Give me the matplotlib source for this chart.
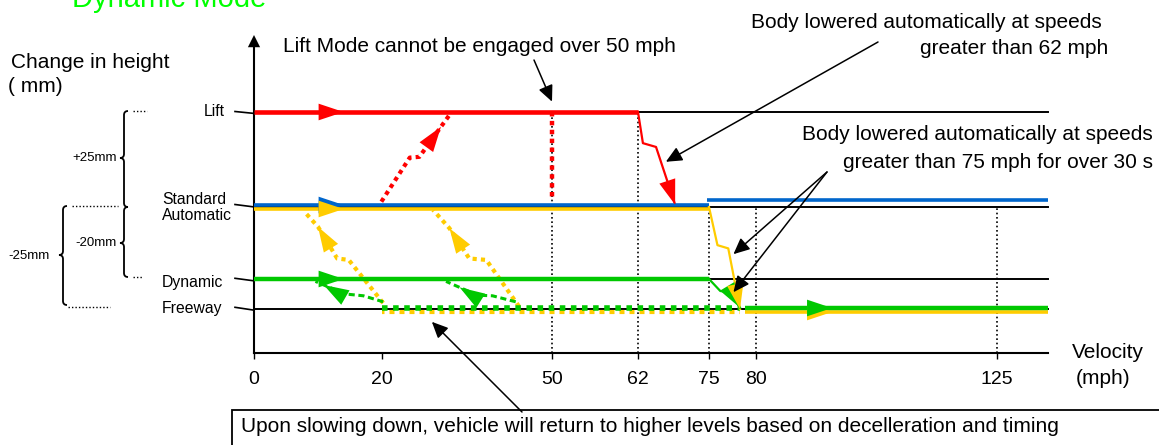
import numpy as np
import matplotlib
matplotlib.use("Agg")
import matplotlib.pyplot as plt
from matplotlib.path import Path
from matplotlib.patches import PathPatch, Rectangle
from matplotlib.transforms import offset_copy

plt.rcParams['font.family'] = ['Liberation Sans', 'DejaVu Sans']

W, H = 1159, 445

# velocity axis (mph) and ride height levels (mm)
speed_ticks = [0, 20, 50, 62, 75, 80, 125]
speed_labels = ['0', '20', '50', '62', '75', '80', '125']
level_mm = [25, 0, -20, -25]          # Lift, Standard, Dynamic, Freeway
v_end = 134.6
axis_mm = -37
axis_top = 45
guide_speeds = [50, 62, 75, 80, 125]
guide_from = [25, 25, 0, 0, 0]

# automatic lowering (mph, mm)
red_drop_v = [62, 62.9, 65.3, 68.8]
red_drop_h = [25, 16.8, 15.8, 0.6]
yel_drop_v = [75, 75.9, 77.05, 78.3]
yel_drop_h = [0, -10.6, -11.5, -25]
grn_drop_v = [75, 76.2, 77.3, 78.3]
grn_drop_h = [-20, -22.0, -22.2, -24.8]

# raising / returning paths (mph, mm)
red_up_v = [19.9, 24.9, 26.6, 30.4, 31.9]
red_up_h = [1.4, 13.0, 13.2, 21.1, 24.2]
yel_ret1_v = [20.2, 14.8, 13.0, 10.0, 8.1]
yel_ret1_h = [-24.0, -14.7, -14.3, -5.5, -1.75]
yel_ret2_v = [44.2, 38.4, 35.4, 31.9, 29.0]
yel_ret2_h = [-24.6, -14.7, -14.3, -5.9, -0.8]
grn_ret1_v = [20.2, 17.1, 14.3, 10.9, 9.6]
grn_ret1_h = [-23.8, -22.8, -22.5, -21.0, -20.4]
grn_ret2_v = [43.6, 39.5, 36.9, 33.7, 31.3]
grn_ret2_h = [-23.8, -22.8, -22.7, -21.4, -20.4]

RED, BLUE, YEL, GRN = '#ff0000', '#0066cc', '#ffcc00', '#00c800'

# piecewise scales (schematic, not linear)
kx_v = [-100, 0, 20, 50, 62, 75, 80, 125, 300]
kx_p = [254 - 645, 254, 382, 552, 638, 709, 756, 997, 997 + 938]
ky_m = [-200, -37, -25, -20, 0, 25, 45, 200]
ky_p = [353 + 600, 353, 309, 279, 207, 112, 35, 35 - 600]


def fx(v):
    return np.interp(v, kx_v, kx_p)


def fx_inv(p):
    return np.interp(p, kx_p, kx_v)


def fy(m):
    return -np.interp(m, ky_m, ky_p)


def fy_inv(q):
    return np.interp(-np.asarray(q), ky_p[::-1], ky_m[::-1])


fig = plt.figure(figsize=(W / 100, H / 100), dpi=100)
lay = fig.add_axes([0, 0, 1, 1])
lay.set_xlim(0, W)
lay.set_ylim(H, 0)
lay.axis('off')

ax = fig.add_axes([0, 0, 1, 1])
ax.patch.set_visible(False)
ax.set_xscale('function', functions=(fx, fx_inv))
ax.set_yscale('function', functions=(fy, fy_inv))
ax.set_xlim(fx_inv(0), fx_inv(W))
ax.set_ylim(fy_inv(-H), fy_inv(0))


def shift(dy):
    return offset_copy(ax.transData, fig=fig, x=0, y=dy, units='dots')


def head(p0, p1, color, dy=0, scale=10):
    tr = shift(dy)
    ax.annotate('', xy=p1, xytext=p0, xycoords=tr, textcoords=tr,
                arrowprops=dict(arrowstyle='-|>,head_length=1.8,head_width=0.6',
                                mutation_scale=scale, color=color, lw=0,
                                shrinkA=0, shrinkB=0), zorder=6)


def pointer(tip, tail_px):
    ax.annotate('', xy=tip, xytext=(tail_px[0], H - tail_px[1]),
                textcoords='figure pixels',
                arrowprops=dict(arrowstyle='-|>,head_length=0.65,head_width=0.3',
                                mutation_scale=15, color='black', lw=1.1,
                                shrinkA=0, shrinkB=0), zorder=8)


# axes
for s in ['top', 'right']:
    ax.spines[s].set_visible(False)
ax.spines['left'].set_position(('data', 0))
ax.spines['left'].set_bounds(axis_mm, 42)
ax.spines['bottom'].set_position(('data', axis_mm))
ax.spines['bottom'].set_bounds(0, v_end)
for s in ['left', 'bottom']:
    ax.spines[s].set_linewidth(1.5)
ax.set_yticks([])
ax.set_xticks(speed_ticks, speed_labels)
ax.xaxis.set_minor_locator(matplotlib.ticker.NullLocator())
ax.tick_params(axis='x', direction='out', length=4, width=1, pad=9, labelsize=14)
ax.annotate('', xy=(0, axis_top), xytext=(0, 40),
            arrowprops=dict(arrowstyle='-|>,head_length=0.8,head_width=0.4',
                            mutation_scale=11, color='black', lw=0,
                            shrinkA=0, shrinkB=0))

# guides and level lines
for v, top in zip(guide_speeds, guide_from):
    ax.plot([v, v], [axis_mm, top], color='black', lw=1.2, ls=(0, (1, 1.6)), zorder=1)
for m in level_mm:
    ax.plot([0, v_end], [m, m], color='black', lw=1.4, zorder=2)

# Lift
ax.plot([0, 62], [25, 25], color=RED, lw=3.3, zorder=4, solid_capstyle='butt')
head((10, 25), (14, 25), RED)
ax.plot(red_drop_v, red_drop_h, color=RED, lw=1.6, zorder=4)
head((red_drop_v[-2], red_drop_h[-2]), (red_drop_v[-1], red_drop_h[-1]), RED)
ax.plot([50, 50], [25, 2.6], color=RED, lw=3.2, ls=(0, (1, 1)), zorder=4)
ax.plot(red_up_v, red_up_h, color=RED, lw=3.0, ls=(0, (1, 1)), zorder=4)
head((red_up_v[2], red_up_h[2]), (red_up_v[3], red_up_h[3]), RED)

# Standard / Automatic
ax.plot([0, 75], [0, 0], color=BLUE, lw=2.6, transform=shift(2), zorder=4,
        solid_capstyle='butt')
ax.plot([0, 75], [0, 0], color=YEL, lw=2.6, transform=shift(-2), zorder=4,
        solid_capstyle='butt')
head((10, 0), (14, 0), BLUE, dy=2)
head((10, 0), (14, 0), YEL, dy=-2)
ax.plot([74.6, v_end], [0, 0], color=BLUE, lw=2.6, transform=shift(7), zorder=4,
        solid_capstyle='butt')
ax.plot(yel_drop_v, yel_drop_h, color=YEL, lw=1.6, zorder=5)

# Dynamic
ax.plot([0, 75], [-20, -20], color=GRN, lw=3.2, zorder=4, solid_capstyle='butt')
head((10, -20), (14, -20), GRN)
ax.plot(grn_drop_v, grn_drop_h, color=GRN, lw=1.6, zorder=5)
head((grn_drop_v[-2], grn_drop_h[-2]), (grn_drop_v[-1], grn_drop_h[-1]), GRN)
head((yel_drop_v[-2], yel_drop_h[-2]), (yel_drop_v[-1], yel_drop_h[-1]), YEL)

# Freeway
ax.plot([20, 78.3], [-25, -25], color=YEL, lw=3.0, ls=(0.6, (1.2, 1.2)),
        transform=shift(-2.5), zorder=4, dash_capstyle='butt')
ax.plot([20, 78.3], [-25, -25], color=GRN, lw=4.0, ls=(0, (1.0, 1.0)),
        transform=shift(1.5), zorder=4, dash_capstyle='butt')
ax.plot([78.8, v_end], [-25, -25], color=YEL, lw=2.6, transform=shift(-3), zorder=4,
        solid_capstyle='butt')
ax.plot([78.8, v_end], [-25, -25], color=GRN, lw=3.2, transform=shift(1), zorder=4,
        solid_capstyle='butt')
head((90, -25), (94.2, -25), YEL, dy=-3)
head((90, -25), (94.2, -25), GRN, dy=1)

# returning paths
for pv, ph in [(yel_ret1_v, yel_ret1_h), (yel_ret2_v, yel_ret2_h)]:
    ax.plot(pv, ph, color=YEL, lw=3.0, ls=(0, (1, 1)), zorder=3)
    head((pv[2], ph[2]), (pv[3], ph[3]), YEL)
for pv, ph in [(grn_ret1_v, grn_ret1_h), (grn_ret2_v, grn_ret2_h)]:
    ax.plot(pv, ph, color=GRN, lw=2.2, ls=(0, (2, 1.2)), zorder=3)
    head((pv[2], ph[2] - 0.6), (pv[3], ph[3]), GRN)

# call-out arrows
pointer((50, 27.7), (534, 60))
pointer((67.1, 11.9), (878, 42))
pointer((77.6, -13.1), (827, 172))
pointer((77.6, -22.2), (827, 172))
pointer((28.8, -28.5), (522, 412))

# text
lay.text(72, 7, 'Dynamic Mode', color='#00ff00', fontsize=21, va='baseline')
lay.text(11, 62, 'Change in height', fontsize=15, va='center')
lay.text(8, 87, '( mm)', fontsize=15, va='center')
lay.text(283, 47, 'Lift Mode cannot be engaged over 50 mph', fontsize=15, va='center')
lay.text(1102, 22, 'Body lowered automatically at speeds', fontsize=15, va='center', ha='right')
lay.text(1108, 48, 'greater than 62 mph', fontsize=15, va='center', ha='right')
lay.text(1153, 135, 'Body lowered automatically at speeds', fontsize=15, va='center', ha='right')
lay.text(1153, 162, 'greater than 75 mph for over 30 s', fontsize=15, va='center', ha='right')
lay.text(1072, 353, 'Velocity', fontsize=15, va='center')
lay.text(1076, 378, '(mph)', fontsize=15, va='center')

lay.text(225, 112, 'Lift', fontsize=11.3, va='center', ha='right')
lay.text(162, 199, 'Standard', fontsize=11.3, va='center')
lay.text(162, 216, 'Automatic', fontsize=11.3, va='center')
lay.text(162, 283, 'Dynamic', fontsize=11.3, va='center')
lay.text(162, 308, 'Freeway', fontsize=11.3, va='center')
for y0, y1 in [(111.5, 113.3), (204.5, 206.8), (278.3, 280.7), (307.3, 310)]:
    lay.plot([235, 253], [y0, y1], color='black', lw=1.2)


def brace(x, y0, y1, ym, r=4):
    verts = [(x + r, y0), (x, y0), (x, y0 + r), (x, ym - r), (x, ym), (x - r, ym),
             (x, ym), (x, ym + r), (x, y1 - r), (x, y1), (x + r, y1)]
    codes = [Path.MOVETO, Path.CURVE3, Path.CURVE3, Path.LINETO, Path.CURVE3, Path.CURVE3,
             Path.CURVE3, Path.CURVE3, Path.LINETO, Path.CURVE3, Path.CURVE3]
    lay.add_patch(PathPatch(Path(verts, codes), fc='none', ec='black', lw=1.3))


brace(124, 111, 207, 158)
brace(124, 207, 277, 243)
brace(63, 206, 305, 255)
for xa, xb, y in [(133, 147, 110.5), (72, 118, 206), (133, 143, 277), (68, 110, 306.5)]:
    lay.plot([xa, xb], [y, y], color='black', lw=1, ls=(0, (1, 1.5)))
lay.text(117, 158, '+25mm', fontsize=9.5, va='center', ha='right')
lay.text(117, 243, '-20mm', fontsize=9.5, va='center', ha='right')
lay.text(50, 256, '-25mm', fontsize=9.5, va='center', ha='right')

lay.add_patch(Rectangle((232, 410), 1000, 60, fc='white', ec='black', lw=1.3))
lay.text(241, 426, 'Upon slowing down, vehicle will return to higher levels based on '
         'decelleration and timing', fontsize=15, va='center')

fig.savefig('out.png', dpi=100)
